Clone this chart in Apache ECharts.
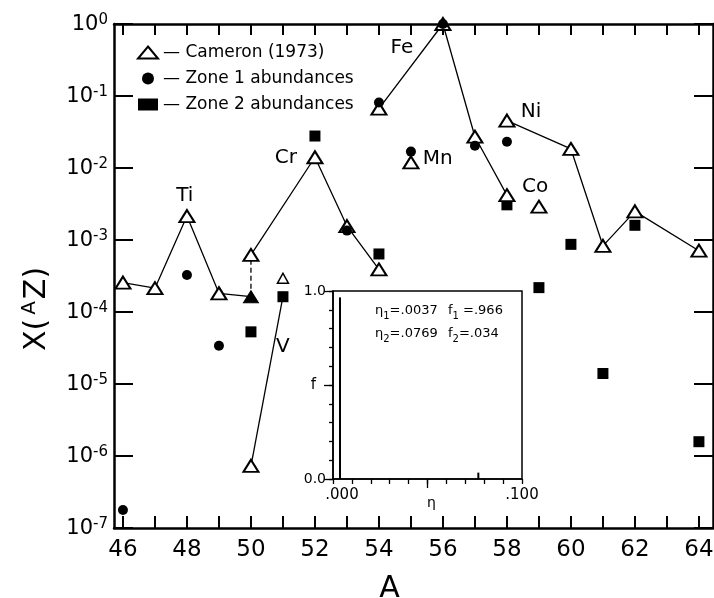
<!DOCTYPE html>
<html><head><meta charset="utf-8">
<script src="https://cdn.jsdelivr.net/npm/echarts@6/dist/echarts.min.js"></script>
<style>html,body{margin:0;padding:0;background:#fff}#c{width:714px;height:598px}</style>
</head><body><div id="c"></div>
<script>
// ---- data ----
const A_TICKS = [46,47,48,49,50,51,52,53,54,55,56,57,58,59,60,61,62,63,64];
const A_LABELS = [46,48,50,52,54,56,58,60,62,64];
const ETA_TICKS = [0,0.01,0.02,0.03,0.04,0.05,0.06,0.07,0.08,0.09,0.1];
const ETA_MAJOR = [0.05];
const ETA_LABELS = [0,0.1];
// Cameron (1973) open triangles
const cameron = [[46,2.56e-4],[47,2.14e-4],[48,2.15e-3],[49,1.82e-4],[50,6.2e-4],[50,7.3e-7],[52,0.0141],[53,1.56e-3],[54,3.9e-4],[54,0.067],[55,0.012],[56,1.0],[57,0.0272],[58,4.2e-3],[58,0.0455],[59,2.9e-3],[60,0.0184],[61,8.3e-4],[62,2.5e-3],[64,7.1e-4]];
const cameronSmall = [[51,2.94e-4]];
const cameronFilled = [[50,1.63e-4]];
// Zone 1 abundances (circles)
const zone1 = [[46,1.78e-7],[48,3.26e-4],[49,3.4e-5],[51,1.63e-4],[52,0.0278],[53,1.35e-3],[54,0.081],[55,0.0169],[56,1.0],[57,0.0204],[58,0.0232]];
// Zone 2 abundances (squares)
const zone2 = [[50,5.3e-5],[51,1.63e-4],[52,0.0278],[54,6.4e-4],[58,3.08e-3],[59,2.18e-4],[60,8.7e-4],[61,1.4e-5],[62,1.6e-3],[64,1.58e-6]];
// connecting lines
const chainTi = [[46,2.56e-4],[47,2.14e-4],[48,2.15e-3],[49,1.82e-4],[50,1.63e-4]];
const chainTiDash = [[50,1.63e-4],[50,6.2e-4]];
const chainCr = [[50,6.2e-4],[52,0.0141],[53,1.56e-3],[54,3.9e-4]];
const chainV = [[50,7.3e-7],[51,1.63e-4]];
const chainFe = [[54,0.067],[56,1.0],[57,0.0272],[58,4.2e-3]];
const chainNi = [[58,0.0455],[60,0.0184],[61,8.3e-4],[62,2.5e-3],[64,7.1e-4]];
// element labels
const elements = [[47.93,4.1e-3,'Ti'],[51.09,0.0138,'Cr'],[54.72,0.46,'Fe'],[55.84,0.0133,'Mn'],[58.75,0.060,'Ni'],[58.88,5.5e-3,'Co'],[51.0,3.25e-5,'V']];
// inset distribution
const insetEta = [0.0037, 0.0769];
const insetF = [0.966, 0.034];
const insetText = ['{a|η}{s|1}{a|=.0037}', '{a|f}{s|1}{a| =.966}', '{a|η}{s|2}{a|=.0769}', '{a|f}{s|2}{a|=.034}'];

const FONT = 'DejaVu Sans';
const chart = echarts.init(document.getElementById('c'), null, {renderer:'canvas'});
const lineSeries = (d, dashed) => ({type:'line', data:d, symbol:'none', xAxisIndex:0, yAxisIndex:0, z:2,
  lineStyle:{color:'#000', width:1.3, type: dashed ? [5,3] : 'solid'}, silent:true, animation:false});
const spike = (e, f) => ({type:'line', data:[[e,0],[e,f]], symbol:'none', xAxisIndex:2, yAxisIndex:2, z:8,
  lineStyle:{color:'#000', width:2}, silent:true, animation:false});
const subRich = {a:{fontSize:13, fontFamily:FONT, color:'#000', verticalAlign:'top', lineHeight:14},
                 s:{fontSize:10, fontFamily:FONT, color:'#000', verticalAlign:'top', padding:[7,0,0,0], lineHeight:10}};
const option = {
  animation:false,
  backgroundColor:'#fff',
  grid:[
    {left:114, top:24, right:1, bottom:70, show:false, containLabel:false, outerBoundsMode:'none'},
    {left:333, top:291, width:189, height:188, show:true, borderColor:'#000', borderWidth:1.5, containLabel:false, outerBoundsMode:'none'}
  ],
  legend:{
    orient:'vertical', left:132, top:39, itemWidth:20, itemHeight:12, itemGap:9,
    textStyle:{fontSize:17, fontFamily:FONT, color:'#000'},
    formatter: n => '— ' + n,
    data:['Cameron (1973)','Zone 1 abundances','Zone 2 abundances'],
    selectedMode:false
  },
  xAxis:[
    {type:'value', gridIndex:0, min:45.72, max:64.44, position:'bottom',
     axisLine:{show:true, onZero:false, lineStyle:{color:'#000', width:2.5}},
     axisTick:{show:true, inside:true, length:12, customValues:A_TICKS, lineStyle:{color:'#000', width:2}},
     axisLabel:{show:true, customValues:A_LABELS, fontSize:23, fontFamily:FONT, color:'#000', margin:11},
     splitLine:{show:false},
     name:'A', nameLocation:'middle', nameGap:46, nameMoveOverlap:false,
     nameTextStyle:{fontSize:30, fontFamily:FONT, color:'#000', padding:[0,48,0,0]}},
    {type:'value', gridIndex:0, min:45.72, max:64.44, position:'top',
     axisLine:{show:true, onZero:false, lineStyle:{color:'#000', width:2.5}},
     axisTick:{show:true, inside:true, length:11, customValues:A_TICKS, lineStyle:{color:'#000', width:2}},
     axisLabel:{show:false}, splitLine:{show:false}},
    {type:'value', gridIndex:1, min:0, max:0.1, position:'bottom',
     axisLine:{show:true, onZero:false, lineStyle:{color:'#000', width:1.5}},
     axisTick:{show:true, inside:false, length:5, customValues:ETA_TICKS, lineStyle:{color:'#000', width:1.3}},
     axisLabel:{show:true, customValues:ETA_LABELS, fontSize:15, fontFamily:FONT, color:'#000', margin:9,
       formatter: v => v < 0.001 ? '{l|.000}' : '.100',
       rich:{l:{fontSize:15, fontFamily:FONT, color:'#000', padding:[0,0,0,18]}}},
     splitLine:{show:false},
     name:'η', nameLocation:'middle', nameGap:17, nameMoveOverlap:false,
     nameTextStyle:{fontSize:14, fontFamily:FONT, color:'#000', padding:[0,0,0,8]}},
    {type:'value', gridIndex:1, min:0, max:0.1, position:'bottom',
     axisLine:{show:false, onZero:false},
     axisTick:{show:true, inside:false, length:9, customValues:ETA_MAJOR, lineStyle:{color:'#000', width:1.3}},
     axisLabel:{show:false}, splitLine:{show:false}}
  ],
  yAxis:[
    {type:'log', gridIndex:0, min:1e-7, max:1, logBase:10, splitNumber:7, position:'left',
     axisLine:{show:true, onZero:false, lineStyle:{color:'#000', width:2.5}},
     axisTick:{show:true, inside:true, length:19, lineStyle:{color:'#000', width:2}},
     axisLabel:{show:true, margin:6, color:'#000',
       formatter: v => { const e = Math.round(Math.log10(v)); return '{b|10}{e|' + (e===0 ? '0' : String(e)) + '}'; },
       rich:{b:{fontSize:21, fontFamily:FONT, color:'#000', verticalAlign:'bottom', lineHeight:22},
             e:{fontSize:15, fontFamily:FONT, color:'#000', verticalAlign:'top', lineHeight:15}}},
     splitLine:{show:false},
     name:'{n|X(}{p|A}{n|Z)}', nameLocation:'middle', nameRotate:90, nameGap:62, nameMoveOverlap:false,
     nameTextStyle:{padding:[0,66,0,0],
       rich:{n:{fontSize:30, fontFamily:FONT, color:'#000', verticalAlign:'bottom', lineHeight:32},
             p:{fontSize:20, fontFamily:FONT, color:'#000', verticalAlign:'top', lineHeight:20, padding:[0,2,0,4]}}}},
    {type:'log', gridIndex:0, min:1e-7, max:1, logBase:10, splitNumber:7, position:'right',
     axisLine:{show:true, onZero:false, lineStyle:{color:'#000', width:2.5}},
     axisTick:{show:true, inside:true, length:19, lineStyle:{color:'#000', width:2}},
     axisLabel:{show:false}, splitLine:{show:false}},
    {type:'value', gridIndex:1, min:0, max:1, interval:0.1, position:'left',
     axisLine:{show:true, onZero:false, lineStyle:{color:'#000', width:1.5}},
     axisTick:{show:true, inside:false, length:4, lineStyle:{color:'#000', width:1.3}},
     axisLabel:{show:true, fontSize:14, fontFamily:FONT, color:'#000', margin:7,
       formatter: v => v > 0.999 ? '1.0' : (v < 0.001 ? '0.0' : '')},
     splitLine:{show:false}},
    {type:'value', gridIndex:1, min:0, max:1, interval:0.5, position:'left',
     axisLine:{show:false, onZero:false},
     axisTick:{show:true, inside:false, length:9, lineStyle:{color:'#000', width:1.3}},
     axisLabel:{show:true, fontSize:15, fontFamily:FONT, color:'#000', margin:17,
       formatter: v => Math.abs(v-0.5) < 1e-6 ? 'f' : ''},
     splitLine:{show:false}}
  ],
  graphic:[
    {type:'text', left:375, top:304, z:100, style:{text:insetText[0], rich:subRich}},
    {type:'text', left:448, top:304, z:100, style:{text:insetText[1], rich:subRich}},
    {type:'text', left:375, top:327, z:100, style:{text:insetText[2], rich:subRich}},
    {type:'text', left:448, top:327, z:100, style:{text:insetText[3], rich:subRich}}
  ],
  series:[
    lineSeries(chainTi), lineSeries(chainTiDash, true), lineSeries(chainCr),
    lineSeries(chainV), lineSeries(chainFe), lineSeries(chainNi),
    {name:'Zone 2 abundances', type:'scatter', data:zone2, xAxisIndex:0, yAxisIndex:0, z:4,
     symbol:'rect', symbolSize:11, itemStyle:{color:'#000', opacity:1}},
    {name:'Cameron (1973)', type:'scatter', data:cameron, xAxisIndex:0, yAxisIndex:0, z:5,
     symbol:'triangle', symbolSize:[15,12], itemStyle:{color:'#fff', borderColor:'#000', borderWidth:2, opacity:1}},
    {name:'Cameron small', type:'scatter', data:cameronSmall, xAxisIndex:0, yAxisIndex:0, z:5,
     symbol:'triangle', symbolSize:[11,10], itemStyle:{color:'#fff', borderColor:'#000', borderWidth:1.5, opacity:1}},
    {name:'Cameron filled', type:'scatter', data:cameronFilled, xAxisIndex:0, yAxisIndex:0, z:5,
     symbol:'triangle', symbolSize:[15,12], itemStyle:{color:'#000', borderColor:'#000', borderWidth:1, opacity:1}},
    {name:'Zone 1 abundances', type:'scatter', data:zone1, xAxisIndex:0, yAxisIndex:0, z:6,
     symbol:'circle', symbolSize:10, itemStyle:{color:'#000', opacity:1}},
    {name:'labels', type:'scatter', data:elements, xAxisIndex:0, yAxisIndex:0, z:7,
     symbol:'circle', symbolSize:0, silent:true, itemStyle:{opacity:1},
     label:{show:true, position:'inside', formatter: p => p.data[2], fontSize:20, fontFamily:FONT, color:'#000'}},
    spike(insetEta[0], insetF[0]),
    spike(insetEta[1], insetF[1])
  ]
};
chart.setOption(option);
</script></body></html>
